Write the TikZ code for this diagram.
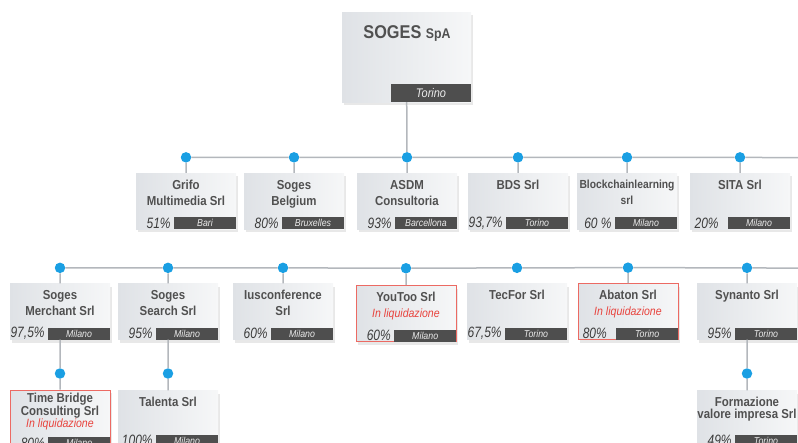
\documentclass[tikz,border=0pt]{standalone}
\usepackage{fontspec}
\setmainfont{Liberation Sans}
\newfontfamily\condfont[FakeStretch=0.88]{Liberation Sans}
\newfontfamily\pctfont[FakeStretch=0.8]{Liberation Sans}
\usepackage{tikz}
\usetikzlibrary{positioning,shadows}

\definecolor{linec}{HTML}{B3B7BC}
\definecolor{dotc}{HTML}{1A9FE3}
\definecolor{boxl}{HTML}{DFE2E6}
\definecolor{boxr}{HTML}{F6F7F8}
\definecolor{barc}{HTML}{4E4E4E}
\definecolor{txtc}{HTML}{505050}
\definecolor{pctc}{HTML}{3C3C3C}
\definecolor{liqc}{HTML}{E8433D}
\definecolor{liqb}{HTML}{EC6A63}

\begin{document}
\begin{tikzpicture}[x=1pt, y=-1pt,
	firm/.style={rectangle, minimum width=100pt, minimum height=56pt, inner sep=0pt,
		left color=boxl, right color=boxr,
		drop shadow={opacity=.18, shadow xshift=2pt, shadow yshift=-3pt}},
	closed/.style={firm, draw=liqb, line width=.8pt},
	dot/.style={circle, fill=dotc, minimum size=10.5pt, inner sep=0pt},
	link/.style={draw=linec, line width=1.5pt},
	title/.style={anchor=north, yshift=-7pt, inner sep=0pt, align=center, text=txtc,
		font=\condfont\bfseries\fontsize{13}{16}\selectfont},
	tight/.style={font=\condfont\bfseries\fontsize{13}{12}\selectfont},
	city/.style={anchor=south east, fill=barc, text=white!92!black, minimum width=62pt,
		minimum height=12pt, inner sep=0pt, font=\condfont\itshape\fontsize{10}{10}\selectfont},
	pct/.style={anchor=east, xshift=-3pt, inner sep=0pt, text=pctc,
		font=\pctfont\itshape\fontsize{15}{15}\selectfont}]

	\useasboundingbox (0,0) rectangle (798,442);
	\clip (0,0) rectangle (798,442);

	% Parent
	\node [firm, minimum width=129pt, minimum height=90pt] (soges) at (406.5,57) {};
	\node [inner sep=0pt, text=txtc, font=\condfont\bfseries\fontsize{18.5}{20}\selectfont]
		(soges-t) at (407,33) {SOGES {\fontsize{14}{16}\selectfont SpA}};
	\node [city, minimum width=80pt, minimum height=18pt, font=\condfont\itshape\fontsize{12.5}{12}\selectfont]
		(soges-c) at (soges.south east) {Torino};

	% First row
	\node [firm] (grifo)      at (186,201) {};
	\node [firm] (belgium)    at (294,201) {};
	\node [firm] (asdm)       at (407,201) {};
	\node [firm] (bds)        at (518,201) {};
	\node [firm] (blockchain) at (627,201) {};
	\node [firm] (sita)       at (740,201) {};

	\node [title] at (grifo.north)   {Grifo\\Multimedia Srl};
	\node [title] at (belgium.north) {Soges\\Belgium};
	\node [title] at (asdm.north)    {ASDM\\Consultoria};
	\node [title] at (bds.north)     {BDS Srl};
	\node [title, font=\condfont\bfseries\fontsize{11.7}{16}\selectfont] at (blockchain.north) {Blockchainlearning\\srl};
	\node [title] at (sita.north)    {SITA Srl};

	\node [city] (grifo-c)      at (grifo.south east)      {Bari};
	\node [city] (belgium-c)    at (belgium.south east)    {Bruxelles};
	\node [city] (asdm-c)       at (asdm.south east)       {Barcellona};
	\node [city] (bds-c)        at (bds.south east)        {Torino};
	\node [city] (blockchain-c) at (blockchain.south east) {Milano};
	\node [city] (sita-c)       at (sita.south east)       {Milano};

	\node [pct] at (grifo-c.west)      {51\%};
	\node [pct] at (belgium-c.west)    {80\%};
	\node [pct] at (asdm-c.west)       {93\%};
	\node [pct] at (bds-c.west)        {93,7\%};
	\node [pct] at (blockchain-c.west) {60 \%};
	\node [pct, xshift=-6pt] at (sita-c.west) {20\%};

	% Second row
	\node [firm]   (merchant) at (60,311.5)  {};
	\node [firm]   (search)   at (168,311.5) {};
	\node [firm]   (ius)      at (283,311.5) {};
	\node [closed] (youtoo)   at (406,313.5) {};
	\node [firm]   (tecfor)   at (517,311.5) {};
	\node [closed] (abaton)   at (628,311.5) {};
	\node [firm]   (synanto)  at (747,311.5) {};

	\node [title] at (merchant.north) {Soges\\Merchant Srl};
	\node [title] at (search.north)   {Soges\\Search Srl};
	\node [title] at (ius.north)      {Iusconference\\Srl};
	\node [title] at (youtoo.north)   {YouToo Srl\\{\color{liqc}\mdseries\itshape\fontsize{12}{16}\selectfont In liquidazione}};
	\node [title] at (tecfor.north)   {TecFor Srl};
	\node [title] at (abaton.north)   {Abaton Srl\\{\color{liqc}\mdseries\itshape\fontsize{12}{16}\selectfont In liquidazione}};
	\node [title] at (synanto.north)  {Synanto Srl};

	\node [city] (merchant-c) at (merchant.south east) {Milano};
	\node [city] (search-c)   at (search.south east)   {Milano};
	\node [city] (ius-c)      at (ius.south east)      {Milano};
	\node [city] (youtoo-c)   at (youtoo.south east)   {Milano};
	\node [city] (tecfor-c)   at (tecfor.south east)   {Torino};
	\node [city] (abaton-c)   at (abaton.south east)   {Torino};
	\node [city] (synanto-c)  at (synanto.south east)  {Torino};

	\node [pct] at (merchant-c.west) {97,5\%};
	\node [pct] at (search-c.west)   {95\%};
	\node [pct] at (ius-c.west)      {60\%};
	\node [pct] at (youtoo-c.west)   {60\%};
	\node [pct] at (tecfor-c.west)   {67,5\%};
	\node [pct, xshift=-6pt] at (abaton-c.west) {80\%};
	\node [pct] at (synanto-c.west)  {95\%};

	% Third row
	\node [closed, minimum height=59pt] (timebridge) at (60,419.5) {};
	\node [firm]   (talenta)    at (168,418.5) {};
	\node [firm]   (formazione) at (747,418.5) {};

	\node [title, tight, yshift=4pt] at (timebridge.north)
		{Time Bridge\\Consulting Srl\\{\color{liqc}\mdseries\itshape\fontsize{12}{12}\selectfont In liquidazione}};
	\node [title] at (talenta.north) {Talenta Srl};
	\node [title, tight] at (formazione.north) {Formazione\\valore impresa Srl};

	\node [city] (timebridge-c) at (timebridge.south east) {Milano};
	\node [city] (talenta-c)    at (talenta.south east)    {Milano};
	\node [city] (formazione-c) at (formazione.south east) {Torino};

	\node [pct] at (timebridge-c.west) {80\%};
	\node [pct] at (talenta-c.west)    {100\%};
	\node [pct] at (formazione-c.west) {49\%};

	% Dots
	\node [dot] (d-grifo)      [above=10pt of grifo]      {};
	\node [dot] (d-belgium)    [above=10pt of belgium]    {};
	\node [dot] (d-asdm)       [above=10pt of asdm]       {};
	\node [dot] (d-bds)        [above=10pt of bds]        {};
	\node [dot] (d-blockchain) [above=10pt of blockchain] {};
	\node [dot] (d-sita)       [above=10pt of sita]       {};
	\coordinate (end1) at (800,157.75);

	\node [dot] (d-merchant) [above=10pt of merchant] {};
	\node [dot] (d-search)   [above=10pt of search]   {};
	\node [dot] (d-ius)      [above=10pt of ius]      {};
	\node [dot] (d-youtoo)   at (406,268.25)          {};
	\node [dot] (d-tecfor)   [above=10pt of tecfor]   {};
	\node [dot] (d-abaton)   [above=10pt of abaton]   {};
	\node [dot] (d-synanto)  [above=10pt of synanto]  {};
	\coordinate (end2) at (800,268.25);

	\node [dot] (d-timebridge) at (60,373.5)  {};
	\node [dot] (d-talenta)    at (168,373.5) {};
	\node [dot] (d-formazione) at (747,373.5) {};

	% Paths
	\path [link]
	(soges) -- (d-asdm)
	(d-grifo) -- (d-belgium) -- (d-asdm) -- (d-bds) -- (d-blockchain) -- (d-sita) -- (end1)
	(d-grifo) -- (grifo)
	(d-belgium) -- (belgium)
	(d-asdm) -- (asdm)
	(d-bds) -- (bds)
	(d-blockchain) -- (blockchain)
	(d-sita) -- (sita)

	(d-merchant) -- (d-search) -- (d-ius) -- (d-youtoo) -- (d-tecfor) -- (d-abaton) -- (d-synanto) -- (end2)
	(d-merchant) -- (merchant)
	(d-search) -- (search)
	(d-ius) -- (ius)
	(d-youtoo) -- (youtoo)
	(d-abaton) -- (abaton)
	(d-synanto) -- (synanto)

	(merchant) -- (d-timebridge) -- (timebridge)
	(search) -- (d-talenta) -- (talenta)
	(synanto) -- (d-formazione) -- (formazione);

\end{tikzpicture}
\end{document}
